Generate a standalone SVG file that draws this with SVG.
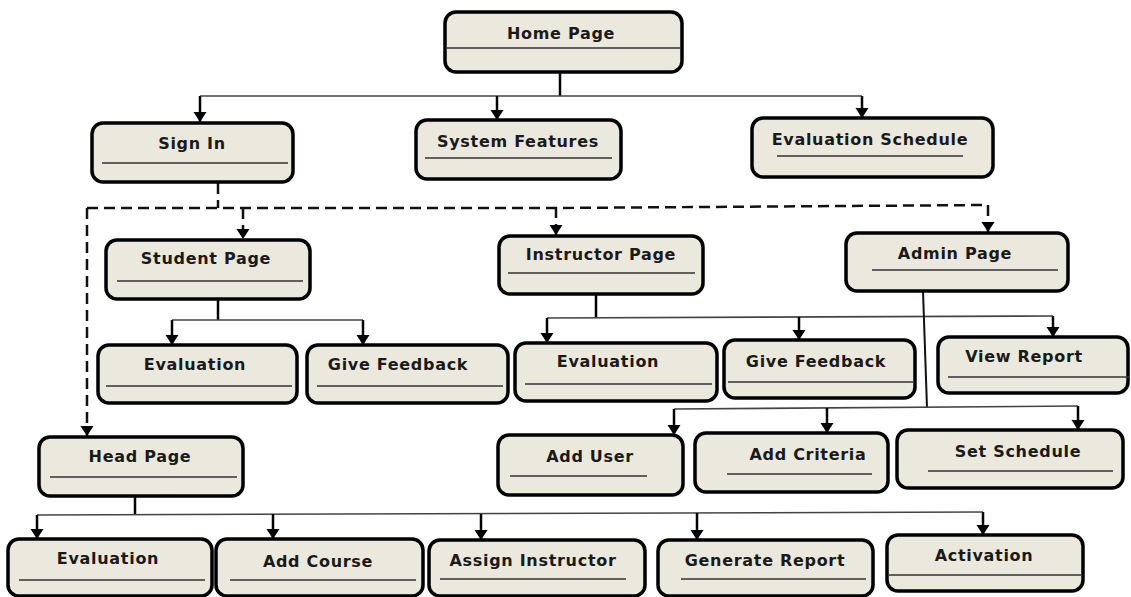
<svg xmlns="http://www.w3.org/2000/svg" width="1131" height="597" viewBox="0 0 1131 597">
  <defs>
    <marker id="tip" markerUnits="userSpaceOnUse" markerWidth="14" markerHeight="14" refX="10" refY="7" orient="auto" viewBox="0 0 14 14">
      <path d="M0 0.5 L10 7 L0 13.5 Z" fill="#000"/>
    </marker>
  </defs>
  <style>
    .box { fill: #ebe8dd; stroke: #000; stroke-width: 3.5; }
    .div { stroke: #333; stroke-width: 1.3; }
    .lbl { font-family: "DejaVu Sans", Verdana, sans-serif; font-weight: bold; font-size: 16px; letter-spacing: 0.7px; fill: #1a1a1a; text-anchor: middle; }
    .stem { fill: none; stroke: #000; stroke-width: 2.5; }
    .bus { fill: none; stroke: #444; stroke-width: 1.6; }
    .drop { fill: none; stroke: #000; stroke-width: 2.5; marker-end: url(#tip); }
    .dash { fill: none; stroke: #111; stroke-width: 2.5; stroke-dasharray: 11 6; }
    .dashdrop { fill: none; stroke: #111; stroke-width: 2.5; stroke-dasharray: 11 6; marker-end: url(#tip); }
  </style>

  <rect width="1131" height="597" fill="#fff"/>

  <g id="connectors">
    <!-- Home Page fan-out -->
    <path class="stem" d="M560 72 V96"/>
    <path class="bus" d="M200 96 H862"/>
    <path class="drop" d="M200 96 V122"/>
    <path class="drop" d="M497 96 V120"/>
    <path class="drop" d="M862 96 V118"/>

    <!-- Sign In dashed fan-out -->
    <path class="dash" d="M218 183 V208"/>
    <path class="dash" d="M87 208 H556 L988 205"/>
    <path class="dashdrop" d="M87 208 V436"/>
    <path class="dashdrop" d="M243 208 V239"/>
    <path class="dashdrop" d="M556 207 V235"/>
    <path class="dashdrop" d="M988 205 V232"/>

    <!-- Student Page children -->
    <path class="stem" d="M218 299 V320"/>
    <path class="bus" d="M172 320 H363"/>
    <path class="drop" d="M172 320 V345"/>
    <path class="drop" d="M363 320 V345"/>

    <!-- Instructor Page children -->
    <path class="stem" d="M596 294 V318"/>
    <path class="bus" d="M547 318 L1053 316"/>
    <path class="drop" d="M547 318 V343"/>
    <path class="drop" d="M799 317 V340"/>
    <path class="drop" d="M1053 316 V337"/>

    <!-- Admin Page children -->
    <path class="bus" d="M923 291 L927 408" style="stroke:#111;stroke-width:2"/>
    <path class="bus" d="M674 409 L1078 406"/>
    <path class="drop" d="M674 409 V435"/>
    <path class="drop" d="M827 408 V433"/>
    <path class="drop" d="M1078 406 V430"/>

    <!-- Head Page children -->
    <path class="stem" d="M135 496 V515"/>
    <path class="bus" d="M37 515 L983 512"/>
    <path class="drop" d="M37 515 V539"/>
    <path class="drop" d="M273 514 V539"/>
    <path class="drop" d="M481 514 V540"/>
    <path class="drop" d="M697 513 V540"/>
    <path class="drop" d="M983 512 V535"/>
  </g>

  <g id="home-page">
    <rect class="box" x="445" y="12" width="237" height="60" rx="11"/>
    <line class="div" x1="447" y1="48" x2="680" y2="48"/>
    <text class="lbl" x="561" y="39">Home Page</text>
  </g>

  <g id="sign-in">
    <rect class="box" x="92" y="123" width="201" height="59" rx="11"/>
    <line class="div" x1="102" y1="163" x2="288" y2="163"/>
    <text class="lbl" x="192" y="149">Sign In</text>
  </g>

  <g id="system-features">
    <rect class="box" x="416" y="120" width="205" height="59" rx="11"/>
    <line class="div" x1="425" y1="158" x2="612" y2="158"/>
    <text class="lbl" x="518" y="147">System Features</text>
  </g>

  <g id="evaluation-schedule">
    <rect class="box" x="752" y="118" width="241" height="59" rx="11"/>
    <line class="div" x1="777" y1="156" x2="963" y2="156"/>
    <text class="lbl" x="870" y="145">Evaluation Schedule</text>
  </g>

  <g id="student-page">
    <rect class="box" x="106" y="240" width="204" height="59" rx="11"/>
    <line class="div" x1="117" y1="281" x2="303" y2="281"/>
    <text class="lbl" x="206" y="264">Student Page</text>
  </g>

  <g id="instructor-page">
    <rect class="box" x="499" y="236" width="204" height="58" rx="11"/>
    <line class="div" x1="508" y1="273" x2="695" y2="273"/>
    <text class="lbl" x="601" y="260">Instructor Page</text>
  </g>

  <g id="admin-page">
    <rect class="box" x="846" y="233" width="222" height="58" rx="11"/>
    <line class="div" x1="872" y1="270" x2="1058" y2="270"/>
    <text class="lbl" x="955" y="259">Admin Page</text>
  </g>

  <g id="student-evaluation">
    <rect class="box" x="98" y="345" width="199" height="58" rx="11"/>
    <line class="div" x1="106" y1="386" x2="292" y2="386"/>
    <text class="lbl" x="195" y="370">Evaluation</text>
  </g>

  <g id="student-give-feedback">
    <rect class="box" x="307" y="345" width="201" height="58" rx="11"/>
    <line class="div" x1="317" y1="386" x2="503" y2="386"/>
    <text class="lbl" x="398" y="370">Give Feedback</text>
  </g>

  <g id="instructor-evaluation">
    <rect class="box" x="515" y="343" width="202" height="58" rx="11"/>
    <line class="div" x1="525" y1="384" x2="712" y2="384"/>
    <text class="lbl" x="608" y="367">Evaluation</text>
  </g>

  <g id="instructor-give-feedback">
    <rect class="box" x="724" y="340" width="191" height="58" rx="11"/>
    <line class="div" x1="728" y1="382" x2="913" y2="382"/>
    <text class="lbl" x="816" y="367">Give Feedback</text>
  </g>

  <g id="view-report">
    <rect class="box" x="938" y="337" width="190" height="56" rx="11"/>
    <line class="div" x1="948" y1="377" x2="1129" y2="377"/>
    <text class="lbl" x="1024" y="362">View Report</text>
  </g>

  <g id="add-user">
    <rect class="box" x="498" y="435" width="185" height="60" rx="11"/>
    <line class="div" x1="510" y1="476" x2="647" y2="476"/>
    <text class="lbl" x="590" y="462">Add User</text>
  </g>

  <g id="add-criteria">
    <rect class="box" x="695" y="433" width="193" height="59" rx="11"/>
    <line class="div" x1="727" y1="474" x2="872" y2="474"/>
    <text class="lbl" x="808" y="460">Add Criteria</text>
  </g>

  <g id="set-schedule">
    <rect class="box" x="897" y="430" width="226" height="58" rx="11"/>
    <line class="div" x1="928" y1="471" x2="1113" y2="471"/>
    <text class="lbl" x="1018" y="457">Set Schedule</text>
  </g>

  <g id="head-page">
    <rect class="box" x="39" y="437" width="204" height="59" rx="11"/>
    <line class="div" x1="50" y1="477" x2="237" y2="477"/>
    <text class="lbl" x="140" y="462">Head Page</text>
  </g>

  <g id="head-evaluation">
    <rect class="box" x="8" y="539" width="204" height="57" rx="11"/>
    <line class="div" x1="19" y1="580" x2="205" y2="580"/>
    <text class="lbl" x="108" y="564">Evaluation</text>
  </g>

  <g id="add-course">
    <rect class="box" x="216" y="539" width="207" height="57" rx="11"/>
    <line class="div" x1="230" y1="580" x2="416" y2="580"/>
    <text class="lbl" x="318" y="567">Add Course</text>
  </g>

  <g id="assign-instructor">
    <rect class="box" x="429" y="540" width="216" height="56" rx="11"/>
    <line class="div" x1="440" y1="579" x2="626" y2="579"/>
    <text class="lbl" x="533" y="566">Assign Instructor</text>
  </g>

  <g id="generate-report">
    <rect class="box" x="658" y="540" width="215" height="56" rx="11"/>
    <line class="div" x1="681" y1="579" x2="866" y2="579"/>
    <text class="lbl" x="765" y="566">Generate Report</text>
  </g>

  <g id="activation">
    <rect class="box" x="887" y="535" width="196" height="56" rx="11"/>
    <line class="div" x1="889" y1="575" x2="1081" y2="575"/>
    <text class="lbl" x="984" y="561">Activation</text>
  </g>
</svg>
